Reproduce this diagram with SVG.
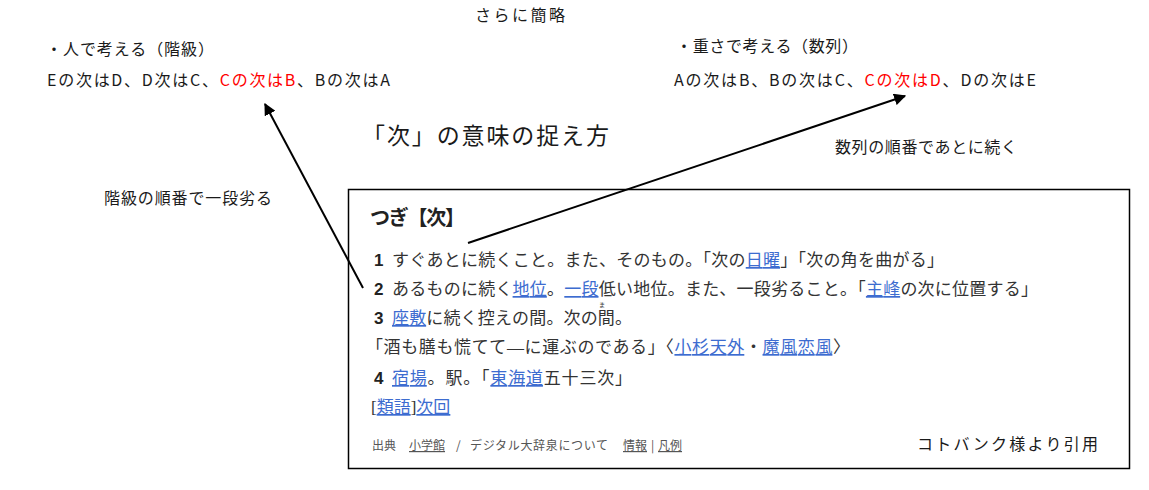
<svg xmlns="http://www.w3.org/2000/svg" width="1149" height="490" viewBox="0 0 1149 490">
<defs>
<style>
.lbl{font-family:"Noto Sans CJK JP","Liberation Sans",sans-serif;font-size:16px;fill:#1a1a1a;font-weight:400}
.red{fill:#ff0000}
.dict{font-family:"Liberation Serif","Noto Sans CJK JP",serif;font-size:17px;fill:#333}
.num{font-family:"Liberation Sans","Noto Sans CJK JP",sans-serif;font-size:17px;font-weight:bold;fill:#222}
.lnk{fill:#3d6cd0;text-decoration:underline}
.foot{font-family:"Noto Sans CJK JP","Liberation Sans",sans-serif;font-size:12px;fill:#555}
.conn{stroke:#000;stroke-width:2;fill:none}
</style>
<marker id="ah" viewBox="0 0 10 10" refX="9" refY="5" markerWidth="6" markerHeight="6" orient="auto" markerUnits="strokeWidth">
<path d="M0,0 L10,5 L0,10 z" fill="#000"/>
</marker>
</defs>
<rect width="1149" height="490" fill="#fff"/>

<g id="title-simplify"><text class="lbl" x="475" y="21" textLength="90">さらに簡略</text></g>

<g id="node-rank">
<text class="lbl" x="46" y="55" textLength="168">・人で考える（階級）</text>
<text class="lbl" x="47" y="86" textLength="343">Eの次はD、D次はC、<tspan class="red">Cの次はB</tspan>、Bの次はA</text>
</g>

<g id="node-sequence">
<text class="lbl" x="676" y="52" textLength="182">・重さで考える（数列）</text>
<text class="lbl" x="674" y="86" textLength="362">Aの次はB、Bの次はC、<tspan class="red">Cの次はD</tspan>、Dの次はE</text>
</g>

<g id="title-meaning"><text class="lbl" x="362" y="144" style="font-size:23px" textLength="247">「次」の意味の捉え方</text></g>

<g id="label-sequence"><text class="lbl" x="835" y="153" textLength="182">数列の順番であとに続く</text></g>
<g id="label-rank"><text class="lbl" x="104" y="204" textLength="168">階級の順番で一段劣る</text></g>

<g id="node-dictionary">
<rect x="348.5" y="189.5" width="781" height="279" fill="#fff" stroke="#000" stroke-width="1.5"/>
<text x="370" y="225" style="font-family:'Noto Sans CJK JP','Liberation Sans',sans-serif;font-size:20px;font-weight:bold;fill:#222" textLength="95">つぎ【次】</text>
<text class="num" x="374" y="266">1</text>
<text class="dict" x="392" y="266" textLength="552">すぐあとに続くこと。また、そのもの。「次の<tspan class="lnk">日曜</tspan>」「次の角を曲がる」</text>
<text class="num" x="374" y="295">2</text>
<text class="dict" x="392" y="295" textLength="646">あるものに続く<tspan class="lnk">地位</tspan>。<tspan class="lnk">一段</tspan>低い地位。また、一段劣ること。「<tspan class="lnk">主峰</tspan>の次に位置する」</text>
<text class="num" x="374" y="324">3</text>
<text class="dict" x="392" y="324" textLength="240"><tspan class="lnk">座敷</tspan>に続く控えの間。次の間。</text>
<text x="599" y="307" style="font-family:'Noto Sans CJK JP',sans-serif;font-size:6px;fill:#333">ま</text>
<text class="dict" x="366" y="353" textLength="484">「酒も膳も慌てて―に運ぶのである」〈<tspan class="lnk">小杉天外</tspan>・<tspan class="lnk">魔風恋風</tspan>〉</text>
<text class="num" x="374" y="384">4</text>
<text class="dict" x="392" y="384" textLength="240"><tspan class="lnk">宿場</tspan>。駅。「<tspan class="lnk">東海道</tspan>五十三次」</text>
<text class="dict" x="371" y="413">[<tspan class="lnk">類語</tspan>]<tspan class="lnk">次回</tspan></text>
<text class="foot" x="372" y="450">出典</text>
<text class="foot lnk" x="409" y="450">小学館</text>
<text class="foot" x="456" y="450">/</text>
<text class="foot" x="470" y="450" textLength="138">デジタル大辞泉について</text>
<text class="foot lnk" x="623" y="450">情報</text>
<text class="foot" x="651" y="450">|</text>
<text class="foot lnk" x="658" y="450">凡例</text>
</g>

<g id="label-credit"><text class="lbl" x="917" y="450" textLength="181">コトバンク様より引用</text></g>

<g id="connectors">
<line class="conn" x1="363" y1="288" x2="265" y2="104" marker-end="url(#ah)"/>
<line class="conn" x1="468" y1="243" x2="905" y2="96" marker-end="url(#ah)"/>
</g>
</svg>
